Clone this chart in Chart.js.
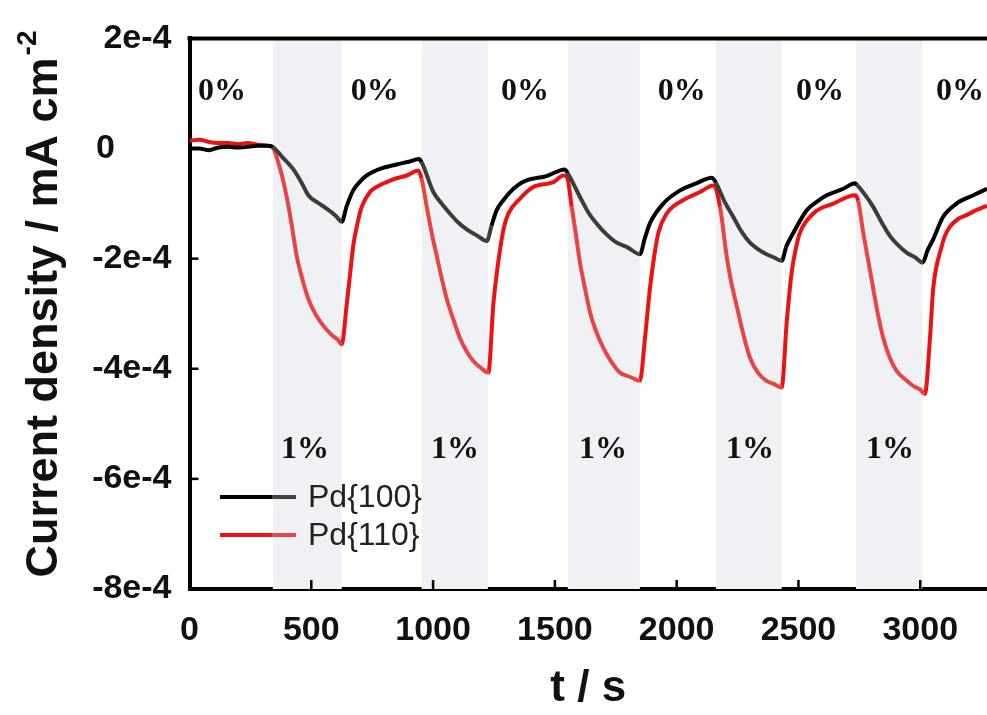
<!DOCTYPE html>
<html>
<head>
<meta charset="utf-8">
<script src="https://cdn.jsdelivr.net/npm/chart.js@4.4.1/dist/chart.umd.min.js"></script>
<style>
  body { margin: 0; background: #fff; }
  canvas { display: block; }
</style>
</head>
<body>
<canvas id="chart" width="987" height="715"></canvas>
<script>
// time axis (s) and current density (units of 1e-4 mA cm^-2)
const t100 = [0, 40, 80, 120, 160, 200, 240, 280, 320, 342, 380, 425, 460, 488, 525, 563, 600, 625,
  645, 672, 700, 727, 782, 850, 900, 942, 953, 1001, 1035, 1069, 1100, 1138, 1180, 1221,
  1240, 1261, 1290, 1316, 1350, 1384, 1466, 1541, 1553, 1603, 1640, 1671, 1710, 1754, 1800, 1849,
  1870, 1890, 1945, 2014, 2082, 2144, 2161, 2195, 2232, 2265, 2301, 2335, 2369, 2400, 2431,
  2450, 2479, 2534, 2575, 2616, 2684, 2732, 2740, 2775, 2807, 2840, 2876, 2910, 2944, 2980, 3010,
  3030, 3053, 3094, 3149, 3218, 3274];
const pd100 = [0.0, 0.0, -0.03, 0.02, 0.03, 0.02, 0.03, 0.05, 0.05, 0.03, -0.15, -0.37, -0.62, -0.85, -0.98, -1.09, -1.22, -1.33,
  -1.05, -0.76, -0.60, -0.49, -0.37, -0.29, -0.24, -0.19, -0.25, -0.79, -1.0, -1.18, -1.33, -1.47, -1.58, -1.68,
  -1.40, -1.12, -0.93, -0.79, -0.66, -0.58, -0.50, -0.38, -0.45, -0.88, -1.18, -1.36, -1.55, -1.71, -1.80, -1.92,
  -1.62, -1.36, -1.0, -0.76, -0.63, -0.53, -0.62, -0.95, -1.24, -1.50, -1.71, -1.83, -1.92, -1.98, -2.04,
  -1.78, -1.53, -1.12, -0.97, -0.85, -0.73, -0.63, -0.66, -0.85, -1.06, -1.33, -1.59, -1.76, -1.89, -1.98, -2.07,
  -1.85, -1.65, -1.24, -1.0, -0.85, -0.73];

const t110 = [0, 40, 80, 120, 160, 200, 240, 280, 320, 342,
  358, 380, 399, 420, 440, 465, 488, 510, 536, 565, 590, 610, 625,
  645, 660, 672, 690, 707, 741, 775, 809, 850, 892, 939,
  953, 974, 995, 1015, 1035, 1056, 1083, 1110, 1140, 1165, 1195, 1227,
  1247, 1262, 1275, 1290, 1309, 1357, 1411, 1494, 1535, 1550,
  1569, 1586, 1603, 1624, 1644, 1670, 1699, 1730, 1767, 1810, 1849,
  1870, 1890, 1908, 1925, 1959, 2014, 2096, 2150,
  2178, 2205, 2225, 2246, 2275, 2301, 2335, 2369, 2400, 2431,
  2452, 2472, 2490, 2506, 2561, 2643, 2732, 2745,
  2766, 2787, 2807, 2828, 2848, 2875, 2903, 2940, 2971, 3000, 3019,
  3040, 3053, 3066, 3081, 3100, 3122, 3155, 3190, 3230, 3274];
const pd110 = [0.14, 0.16, 0.12, 0.10, 0.10, 0.08, 0.10, 0.07, 0.05, 0.02,
  -0.16, -0.5, -0.88, -1.4, -1.95, -2.4, -2.73, -2.95, -3.14, -3.30, -3.41, -3.48, -3.56,
  -2.85, -2.25, -1.77, -1.35, -1.06, -0.79, -0.68, -0.61, -0.54, -0.49, -0.40,
  -0.55, -1.06, -1.55, -1.95, -2.35, -2.73, -3.10, -3.44, -3.70, -3.86, -3.98, -4.07,
  -2.85, -2.25, -1.83, -1.45, -1.18, -0.91, -0.70, -0.61, -0.49, -0.52,
  -1.06, -1.55, -2.07, -2.55, -2.97, -3.33, -3.62, -3.86, -4.07, -4.15, -4.22,
  -3.44, -2.55, -1.95, -1.53, -1.18, -0.97, -0.79, -0.67,
  -1.06, -1.95, -2.45, -2.85, -3.40, -3.80, -4.08, -4.22, -4.28, -4.34,
  -3.14, -2.25, -1.80, -1.53, -1.18, -1.0, -0.85, -0.95,
  -1.53, -2.05, -2.55, -3.05, -3.44, -3.80, -4.04, -4.20, -4.31, -4.38, -4.46,
  -3.44, -2.55, -2.15, -1.89, -1.60, -1.42, -1.28, -1.21, -1.12, -1.04];

// 1% gas intervals (shaded)
const bandStart = [342, 953, 1553, 2161, 2736];
const bandEnd = [625, 1225, 1849, 2431, 3008];

// in-plot labels
const offX = [133, 761, 1377, 2021, 2588, 3163];
const offY = 1.04;
const onX = [474, 1090, 1698, 2301, 2876];
const onY = -5.47;

const yTicks = [-8, -6, -4, -2, 0, 2];
const xTicks = [0, 500, 1000, 1500, 2000, 2500, 3000];

const inBand = (x) => bandStart.some((s, i) => x >= s && x < bandEnd[i]);

const bandsPlugin = {
  id: 'bands',
  beforeDatasetsDraw(chart) {
    const { ctx, chartArea, scales } = chart;
    ctx.save();
    ctx.fillStyle = '#f0f1f4';
    bandStart.forEach((s, i) => {
      const x0 = scales.x.getPixelForValue(s);
      const x1 = scales.x.getPixelForValue(bandEnd[i]);
      ctx.fillRect(x0, chartArea.top, x1 - x0, chartArea.bottom - chartArea.top);
    });
    ctx.restore();
  },
  afterDatasetsDraw(chart) {
    const { ctx, chartArea, scales } = chart;
    ctx.save();
    // top frame line
    ctx.strokeStyle = '#000';
    ctx.lineWidth = 4;
    ctx.beginPath();
    ctx.moveTo(chartArea.left - 2, chartArea.top);
    ctx.lineTo(chart.width, chartArea.top);
    ctx.stroke();
    // inward tick marks
    ctx.lineWidth = 2.5;
    xTicks.slice(1).forEach((v) => {
      const x = scales.x.getPixelForValue(v);
      ctx.beginPath();
      ctx.moveTo(x, chartArea.bottom);
      ctx.lineTo(x, chartArea.bottom - 9);
      ctx.stroke();
    });
    yTicks.slice(1, -1).forEach((v) => {
      const y = scales.y.getPixelForValue(v);
      ctx.beginPath();
      ctx.moveTo(chartArea.left, y);
      ctx.lineTo(chartArea.left + 9, y);
      ctx.stroke();
    });
    // 0% / 1% labels
    ctx.fillStyle = '#111';
    ctx.font = 'bold 32px "Liberation Serif", "Times New Roman", serif';
    ctx.textAlign = 'center';
    ctx.textBaseline = 'middle';
    offX.forEach((x) => ctx.fillText('0%', scales.x.getPixelForValue(x), scales.y.getPixelForValue(offY)));
    onX.forEach((x) => ctx.fillText('1%', scales.x.getPixelForValue(x), scales.y.getPixelForValue(onY)));

    // legend
    const legend = [['Pd{100}', '#000', '#444', 497], ['Pd{110}', '#ee1111', '#e84848', 535]];
    legend.forEach(([label, c1, c2, y]) => {
      ctx.lineWidth = 4;
      ctx.strokeStyle = c1;
      ctx.beginPath(); ctx.moveTo(220, y); ctx.lineTo(272, y); ctx.stroke();
      ctx.strokeStyle = c2;
      ctx.beginPath(); ctx.moveTo(272, y); ctx.lineTo(296, y); ctx.stroke();
      ctx.fillStyle = '#222';
      ctx.font = '32px "Liberation Sans", Arial, sans-serif';
      ctx.textAlign = 'left';
      ctx.fillText(label, 308, y + 1);
    });
    ctx.restore();
  },
  afterDraw(chart) {
    // y axis title with superscript
    const { ctx } = chart;
    ctx.save();
    ctx.translate(45, 305);
    ctx.rotate(-Math.PI / 2);
    ctx.fillStyle = '#111';
    const main = 'Current density / mA cm';
    ctx.font = 'bold 45px "Liberation Sans", Arial, sans-serif';
    const w1 = ctx.measureText(main).width;
    ctx.font = 'bold 28px "Liberation Sans", Arial, sans-serif';
    const w2 = ctx.measureText('-2').width;
    const start = -(w1 + w2) / 2;
    ctx.textAlign = 'left';
    ctx.textBaseline = 'middle';
    ctx.font = 'bold 45px "Liberation Sans", Arial, sans-serif';
    ctx.fillText(main, start, 0);
    ctx.font = 'bold 28px "Liberation Sans", Arial, sans-serif';
    ctx.fillText('-2', start + w1 + 2, -17);
    ctx.restore();
  }
};

const seg = (dark, light) => ({
  borderColor: (c) => (inBand(c.p0.parsed.x) ? light : dark)
});

new Chart(document.getElementById('chart'), {
  type: 'line',
  data: {
    datasets: [
      {
        label: 'Pd{100}',
        data: t100.map((t, i) => ({ x: t, y: pd100[i] })),
        borderColor: '#000',
        borderWidth: 4,
        pointRadius: 0,
        cubicInterpolationMode: 'monotone',
        segment: seg('#000', '#3c3c3c')
      },
      {
        label: 'Pd{110}',
        data: t110.map((t, i) => ({ x: t, y: pd110[i] })),
        borderColor: '#ee1111',
        borderWidth: 4,
        pointRadius: 0,
        cubicInterpolationMode: 'monotone',
        segment: seg('#ee1111', '#e84444')
      }
    ]
  },
  options: {
    responsive: false,
    animation: false,
    layout: { padding: { top: 29, right: 0, left: 0, bottom: 0 } },
    plugins: { legend: { display: false }, tooltip: { enabled: false } },
    scales: {
      x: {
        type: 'linear',
        min: 0,
        max: 3274,
        afterFit: (s) => { s.height = 126; s.paddingRight = 0; },
        afterBuildTicks: (s) => { s.ticks = xTicks.map((v) => ({ value: v })); },
        grid: { display: false, drawTicks: false },
        border: { display: true, color: '#000', width: 4 },
        ticks: {
          autoSkip: false,
          padding: 21,
          color: '#111',
          font: { family: '"Liberation Sans", Arial, sans-serif', size: 34, weight: 'bold' },
          maxRotation: 0,
          callback: (v) => String(v)
        },
        title: {
          display: true,
          text: 't / s',
          color: '#111',
          padding: 0,
          font: { family: '"Liberation Sans", Arial, sans-serif', size: 44, weight: 'bold' }
        }
      },
      y: {
        min: -8,
        max: 2,
        afterFit: (s) => { s.width = 189.5; },
        afterBuildTicks: (s) => { s.ticks = yTicks.map((v) => ({ value: v })); },
        grid: { display: false, drawTicks: false },
        border: { display: true, color: '#000', width: 4 },
        ticks: {
          padding: 18,
          color: '#111',
          font: { family: '"Liberation Sans", Arial, sans-serif', size: 34, weight: 'bold' },
          callback: (v) => (v === 0 ? '0      ' : v + 'e-4')
        }
      }
    }
  },
  plugins: [bandsPlugin]
});
</script>
</body>
</html>
